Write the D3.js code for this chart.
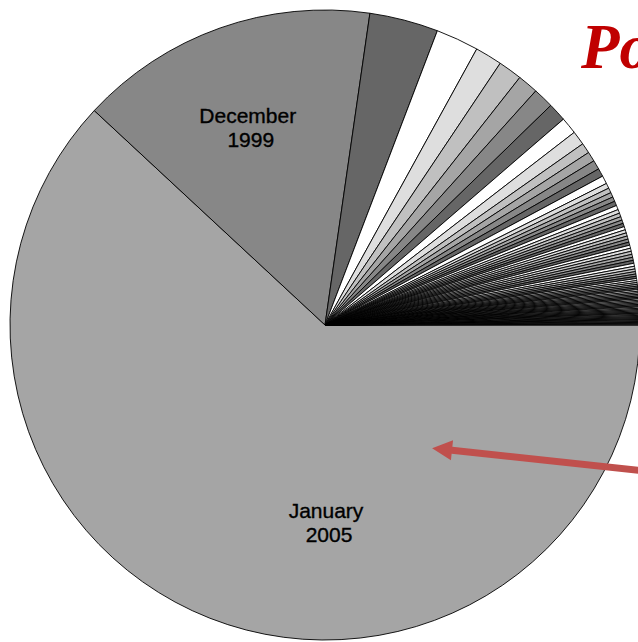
<!DOCTYPE html>
<html>
<head>
<meta charset="utf-8">
<script src="https://cdn.jsdelivr.net/npm/d3@7"></script>
<style>
  html, body { margin: 0; padding: 0; background: #ffffff; overflow: hidden; }
  svg { display: block; }
</style>
</head>
<body>
<script>
// Monthly shares, largest first (relative units)
const shares = [
  2229, 553, 127, 79, 50, 44, 38, 38, 34, 31, 26, 19, 18, 17, 15, 15,
  9.6, 9.0, 8.7, 8.5, 8.3, 8.0,
  7.0, 6.8, 6.5, 6.4, 6.2, 6.0,
  6.0, 5.9, 5.8, 5.8, 5.7, 5.7,
  5.7, 5.7, 5.6, 5.6, 5.5, 5.5,
  5.0, 4.8, 4.5, 4.2, 4.0, 3.8,
  3.6, 3.4, 3.3, 3.2, 3.1, 3.0,
  2.9, 2.8, 2.8, 2.7, 2.7, 2.6,
  2.6, 2.5, 2.5, 2.4, 2.4, 2.3,
  2.3, 2.2, 2.2, 2.1, 2.1, 2.0,
  2.0, 1.9, 1.9, 1.8, 1.8, 1.7,
  1.7, 1.6, 1.6, 1.5
];

// Labels for the two biggest months
const sliceLabels = [["January", "2005"], ["December", "1999"]];

// Grey fill cycle used for the slices
const greys = ["#a5a5a5", "#878787", "#666666", "#ffffff", "#dedede", "#c0c0c0"];

const titleText = "Power Law";

const W = 638, H = 642;
const cx = 325, cy = 325, R = 315;

const svg = d3.select("body").append("svg")
  .attr("width", W).attr("height", H);

const pie = d3.pie()
  .sort(null)
  .value(d => d)
  .startAngle(Math.PI / 2)
  .endAngle(Math.PI / 2 + 2 * Math.PI);

const arcs = pie(shares);

const arc = d3.arc().innerRadius(0).outerRadius(R);
const labelArc = d3.arc().innerRadius(R * 0.66).outerRadius(R * 0.66);

const color = d3.scaleOrdinal().domain(d3.range(greys.length)).range(greys);

const g = svg.append("g").attr("transform", `translate(${cx},${cy})`);

g.selectAll("path.slice")
  .data(arcs)
  .join("path")
  .attr("class", "slice")
  .attr("d", arc)
  .attr("fill", (d, i) => color(i % greys.length))
  .attr("stroke", "#000000")
  .attr("stroke-width", 0.9)
  .attr("stroke-linejoin", "round");

// Labels for the named months
const labelled = arcs.slice(0, sliceLabels.length);
g.selectAll("text.lbl")
  .data(labelled)
  .join("text")
  .attr("class", "lbl")
  .attr("transform", (d, i) => {
    let [x, y] = labelArc.centroid(d);
    if (i === 0) {
      // bottom label sits straight below the centre
      x = 1; y = R * 0.66 - 11;
    } else {
      x -= 8; y -= 2;
    }
    return `translate(${x},${y})`;
  })
  .attr("text-anchor", "middle")
  .attr("font-family", "'Liberation Sans', Arial, sans-serif")
  .attr("font-size", 21)
  .attr("fill", "#000000")
  .attr("stroke", "#000000")
  .attr("stroke-width", 0.35)
  .each(function (d, i) {
    const t = d3.select(this);
    sliceLabels[i].forEach((line, k) => {
      t.append("tspan")
        .attr("x", k === 0 ? 0 : 3)
        .attr("dy", k === 0 ? "-0.2em" : "1.15em")
        .text(line);
    });
  });

// Title
svg.append("text")
  .attr("x", 581)
  .attr("y", 68)
  .attr("font-family", "'Liberation Serif', 'Times New Roman', serif")
  .attr("font-style", "italic")
  .attr("font-weight", "bold")
  .attr("font-size", 63)
  .attr("fill", "#c00000")
  .text(titleText);

// Pointer arrow into the largest slice
const tip = [cx + R * 0.34, cy + R * 0.391];
const tail = [W + 60, tip[1] + (W + 60 - tip[0]) * 0.107];
const ang = Math.atan2(tail[1] - tip[1], tail[0] - tip[0]);
const headLen = 20, headHalf = 10, shaft = 3.5;
const ux = Math.cos(ang), uy = Math.sin(ang);
const px = -uy, py = ux;
const base = [tip[0] + ux * headLen, tip[1] + uy * headLen];
const pts = [
  tip,
  [base[0] + px * headHalf, base[1] + py * headHalf],
  [base[0] + px * shaft, base[1] + py * shaft],
  [tail[0] + px * shaft, tail[1] + py * shaft],
  [tail[0] - px * shaft, tail[1] - py * shaft],
  [base[0] - px * shaft, base[1] - py * shaft],
  [base[0] - px * headHalf, base[1] - py * headHalf]
];
svg.append("path")
  .attr("d", d3.line()(pts) + "Z")
  .attr("fill", "#c0504d")
  .attr("stroke", "none");
</script>
</body>
</html>
